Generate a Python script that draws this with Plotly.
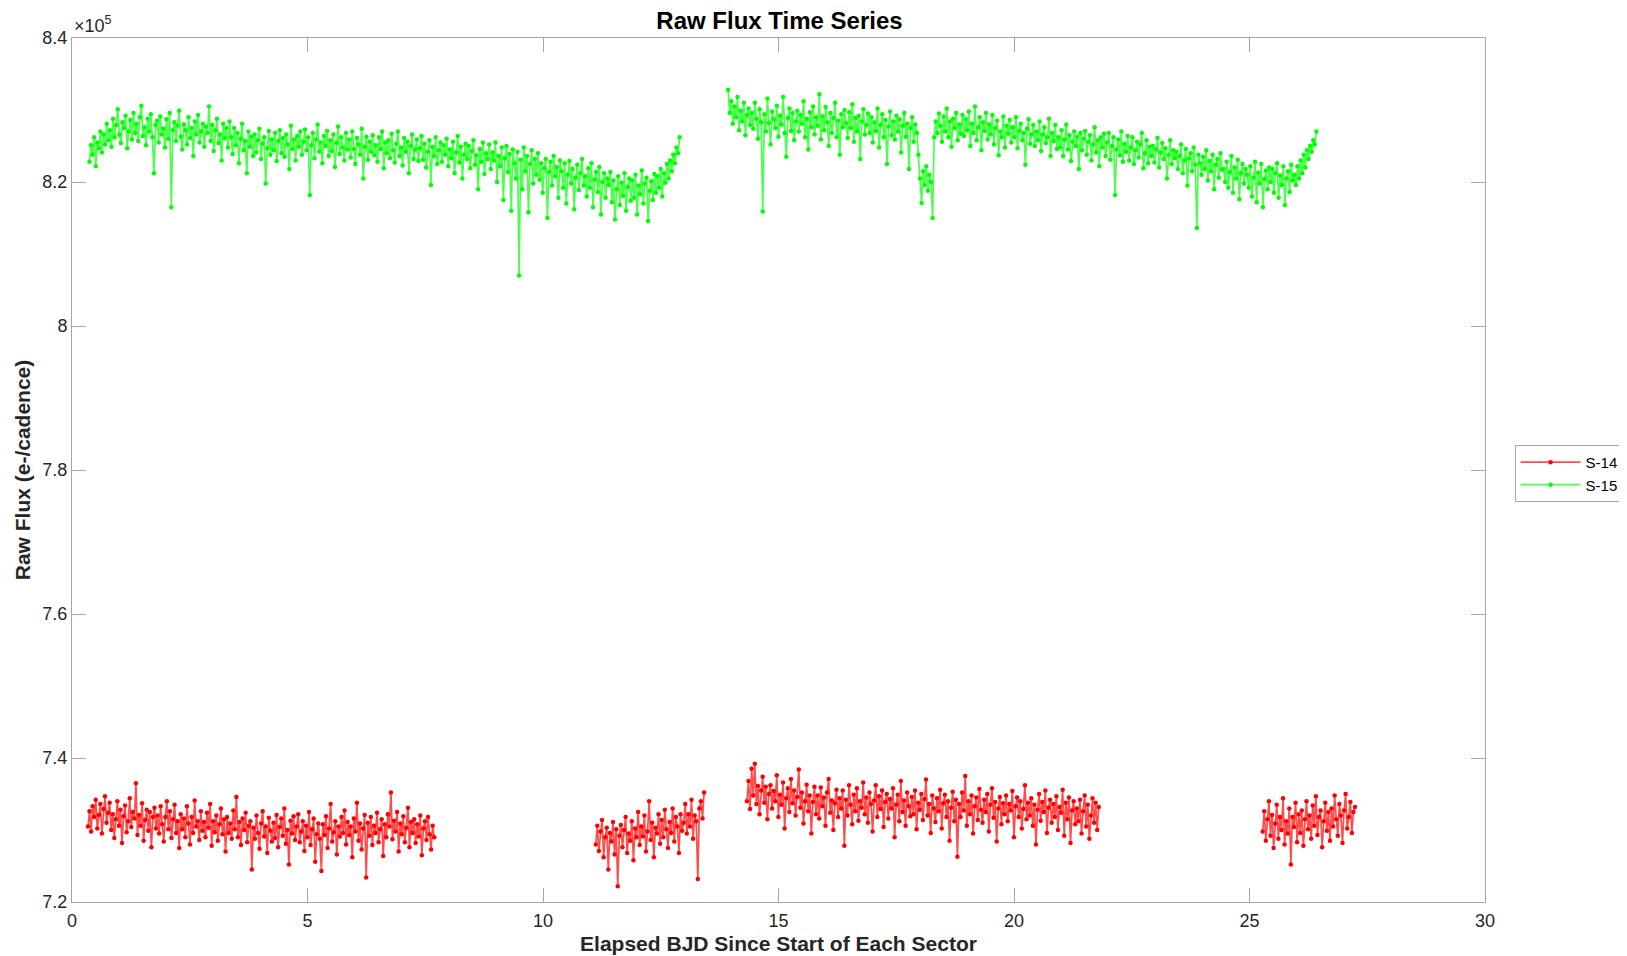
import numpy as np
import plotly.graph_objects as go

# Flux values are in units of 100 e-/cadence (e.g. 8273 -> 8.273e5 e-/cadence).
# Each segment: (start day, end day) + values; samples are evenly spaced in time (fixed cadence).

S15_SEG1_T = (0.37, 12.90)
S15_SEG1 = [
    8228, 8251, 8238, 8262, 8222, 8255, 8247, 8270, 8241, 8266, 8252, 8281, 8258, 8272, 8249,
    8288, 8262, 8279, 8301, 8266, 8254, 8283, 8275, 8292, 8247, 8270, 8286, 8259, 8296, 8268,
    8281, 8257, 8290, 8306, 8264, 8276, 8251, 8288, 8270, 8294, 8262, 8212, 8279, 8285, 8255,
    8291, 8266, 8274, 8248, 8287, 8260, 8296, 8165, 8272, 8283, 8257, 8278, 8299, 8263, 8245,
    8280, 8272, 8252, 8290, 8261, 8275, 8236, 8284, 8266, 8293, 8255, 8270, 8281, 8249, 8277,
    8268, 8305, 8257, 8279, 8243, 8272, 8288, 8254, 8266, 8230, 8281, 8261, 8275, 8248, 8284,
    8262, 8239, 8275, 8251, 8268, 8226, 8260, 8281, 8244, 8257, 8212, 8270, 8249, 8263, 8236,
    8266, 8241, 8258, 8274, 8232, 8253, 8262, 8198, 8247, 8271, 8238, 8259, 8244, 8268, 8229,
    8257, 8272, 8240, 8261, 8235, 8266, 8252, 8218, 8278, 8246, 8259, 8230, 8264, 8249, 8270,
    8238, 8256, 8273, 8244, 8262, 8182, 8251, 8268, 8233, 8259, 8280, 8242, 8255, 8226, 8264,
    8250, 8271, 8236, 8258, 8243, 8266, 8221, 8254, 8277, 8239, 8262, 8248, 8230, 8268, 8245,
    8259, 8234, 8270, 8246, 8225, 8261, 8252, 8238, 8274, 8205, 8249, 8263, 8231, 8256, 8242,
    8265, 8237, 8251, 8228, 8262, 8246, 8270, 8219, 8255, 8240, 8258, 8233, 8267, 8244, 8227,
    8253, 8270, 8236, 8248, 8223, 8261, 8242, 8256, 8212, 8250, 8266, 8232, 8245, 8259, 8229,
    8247, 8264, 8231, 8253, 8220, 8242, 8258, 8196, 8249, 8236, 8262, 8225, 8244, 8255, 8228,
    8251, 8238, 8260, 8222, 8245, 8233, 8256, 8212, 8241, 8264, 8227, 8249, 8205, 8238, 8253,
    8232, 8250, 8219, 8243, 8258, 8224, 8237, 8190, 8246, 8228, 8255, 8211, 8240, 8232, 8252,
    8218, 8241, 8230, 8255, 8200, 8236, 8222, 8248, 8175, 8233, 8250, 8214, 8239, 8160, 8245,
    8226, 8205, 8242, 8070, 8231, 8190, 8248, 8215, 8236, 8158, 8225, 8244, 8198, 8232, 8210,
    8240, 8203, 8226, 8185, 8219, 8232, 8150, 8214, 8228, 8195, 8236, 8208, 8221, 8178, 8230,
    8215, 8192, 8226, 8170, 8210, 8229, 8198, 8218, 8162, 8206, 8224, 8189, 8212, 8232, 8195,
    8208, 8180, 8219, 8192, 8226, 8165, 8203, 8214, 8186, 8221, 8155, 8200, 8212, 8178, 8205,
    8196, 8214, 8172, 8202, 8148, 8190, 8208, 8168, 8199, 8181, 8212, 8160, 8193, 8205, 8174,
    8202, 8178, 8210, 8155, 8195, 8183, 8216, 8170, 8198, 8206, 8146, 8188, 8201, 8175, 8211,
    8185, 8208, 8192, 8218, 8180, 8212, 8199, 8225, 8205, 8230, 8215, 8238, 8226, 8248, 8240, 8262,
]

S15_SEG2_T = (13.93, 26.42)
S15_SEG2 = [
    8328, 8296, 8312, 8281, 8305, 8290, 8318, 8272, 8299, 8284, 8310, 8265, 8293, 8302, 8279,
    8296, 8274, 8310, 8288, 8260, 8301, 8283, 8159, 8294, 8270, 8316, 8282, 8252, 8298, 8287,
    8275, 8306, 8263, 8292, 8280, 8318, 8268, 8235, 8289, 8302, 8271, 8296, 8258, 8284, 8299,
    8270, 8293, 8281, 8312, 8262, 8288, 8245, 8297, 8276, 8305, 8266, 8290, 8278, 8322, 8259,
    8291, 8272, 8304, 8283, 8250, 8296, 8268, 8289, 8310, 8262, 8285, 8238, 8294, 8276, 8300,
    8282, 8261, 8297, 8275, 8308, 8256, 8289, 8270, 8292, 8232, 8284, 8301, 8266, 8279, 8295,
    8268, 8290, 8255, 8283, 8271, 8302, 8248, 8279, 8294, 8262, 8286, 8225, 8277, 8298, 8265,
    8284, 8259, 8292, 8270, 8287, 8241, 8278, 8296, 8263, 8281, 8218, 8275, 8290, 8256, 8280,
    8268, 8238, 8205, 8171, 8215, 8196, 8222, 8188, 8210, 8200, 8150, 8262, 8284, 8268, 8295,
    8278, 8256, 8291, 8270, 8302, 8262, 8284, 8249, 8288, 8275, 8296, 8258, 8280, 8267, 8293,
    8264, 8287, 8272, 8298, 8250, 8281, 8268, 8305, 8258, 8276, 8290, 8244, 8283, 8271, 8296,
    8259, 8280, 8266, 8293, 8252, 8275, 8285, 8237, 8270, 8262, 8291, 8248, 8278, 8267, 8286,
    8255, 8276, 8262, 8290, 8247, 8271, 8281, 8258, 8268, 8224, 8274, 8287, 8253, 8266, 8279,
    8250, 8270, 8258, 8284, 8243, 8266, 8276, 8254, 8262, 8288, 8236, 8268, 8257, 8279, 8246,
    8262, 8248, 8272, 8236, 8259, 8280, 8245, 8265, 8229, 8256, 8270, 8250, 8263, 8218, 8268,
    8244, 8260, 8271, 8238, 8256, 8265, 8230, 8252, 8276, 8241, 8258, 8222, 8262, 8248, 8267,
    8236, 8255, 8268, 8231, 8250, 8262, 8182, 8245, 8259, 8237, 8270, 8228, 8253, 8242, 8264,
    8230, 8248, 8262, 8225, 8244, 8256, 8234, 8252, 8268, 8219, 8240, 8258, 8226, 8249, 8236,
    8250, 8227, 8245, 8261, 8220, 8241, 8254, 8232, 8247, 8205, 8238, 8258, 8225, 8244, 8233,
    8242, 8218, 8236, 8252, 8212, 8230, 8246, 8195, 8233, 8240, 8215, 8248, 8224, 8136, 8238,
    8226, 8210, 8235, 8218, 8244, 8202, 8229, 8215, 8238, 8190, 8224, 8232, 8206, 8240, 8217,
    8218, 8200, 8228, 8192, 8214, 8236, 8185, 8220, 8205, 8231, 8176, 8212, 8225, 8198, 8218,
    8210, 8192, 8222, 8180, 8206, 8228, 8172, 8213, 8198, 8225, 8165, 8204, 8216, 8190, 8220,
    8200, 8218, 8185, 8212, 8226, 8178, 8209, 8196, 8222, 8168, 8205, 8215, 8186, 8224, 8202,
    8210, 8196, 8222, 8205, 8230, 8212, 8238, 8220, 8244, 8232, 8250, 8242, 8258, 8252, 8270,
]

S14_SEGA_T = (0.34, 7.69)
S14_SEGA = [
    7305, 7326, 7298, 7333, 7318, 7342, 7302, 7321, 7336, 7295, 7329, 7347, 7310, 7324, 7338,
    7300, 7322, 7289, 7315, 7340, 7306, 7328, 7282, 7319, 7334, 7297, 7312, 7344, 7304, 7325,
    7316, 7365, 7293, 7321, 7306, 7337, 7285, 7314, 7328, 7299, 7325, 7276, 7318, 7331, 7302,
    7320, 7295, 7333, 7308, 7284, 7318, 7340, 7301, 7326, 7289, 7315, 7335, 7296, 7312, 7275,
    7322, 7301, 7316, 7290, 7333, 7309, 7280, 7318, 7296, 7341, 7305, 7312, 7286, 7326, 7299,
    7311, 7290, 7324, 7303, 7336, 7278, 7312, 7297, 7320, 7285, 7308, 7330, 7294, 7315, 7270,
    7318, 7296, 7309, 7288, 7327, 7301, 7346, 7290, 7311, 7279, 7316, 7300, 7324, 7283, 7306,
    7312, 7245, 7303, 7288, 7320, 7296, 7274, 7309, 7326, 7291, 7305, 7268, 7317, 7299, 7284,
    7310, 7289, 7321, 7276, 7304, 7316, 7292, 7330, 7281, 7300, 7252, 7313, 7295, 7319, 7286,
    7305, 7322, 7283, 7298, 7312, 7271, 7306, 7290, 7325, 7279, 7301, 7316, 7256, 7294, 7309,
    7288, 7243, 7308, 7293, 7319, 7275, 7302, 7336, 7284, 7297, 7312, 7266, 7305, 7291, 7318,
    7296, 7327, 7280, 7311, 7293, 7305, 7262, 7316, 7298, 7338, 7285, 7309, 7273, 7302, 7321,
    7234, 7310, 7292, 7318, 7279, 7306, 7296, 7324, 7283, 7301, 7315, 7264, 7308, 7290, 7322,
    7305, 7352, 7287, 7313, 7298, 7325, 7270, 7309, 7294, 7319, 7283, 7303, 7331, 7276, 7311,
    7296, 7315, 7282, 7308, 7291, 7320, 7265, 7302, 7312, 7286, 7318, 7294, 7273, 7306, 7290,
]

S14_SEGB_T = (11.12, 13.42)
S14_SEGB = [
    7280, 7306, 7271, 7298, 7314, 7262, 7290, 7303, 7245, 7296, 7284, 7311, 7266, 7301,
    7222, 7292, 7307, 7276, 7300, 7318, 7268, 7295, 7285, 7312, 7258, 7302, 7290, 7325,
    7279, 7305, 7291, 7320, 7270, 7298, 7340, 7286, 7310, 7262, 7303, 7295, 7322, 7281,
    7314, 7290, 7328, 7301, 7275, 7311, 7296, 7330, 7284, 7318, 7305, 7268, 7322, 7299,
    7310, 7336, 7295, 7322, 7305, 7342, 7288, 7320, 7312, 7232, 7330, 7340, 7316, 7352,
]

S14_SEGC_T = (14.33, 21.80)
S14_SEGC = [
    7340, 7368, 7329, 7385, 7348, 7392, 7336, 7361, 7322, 7355, 7374, 7338, 7360, 7315, 7350,
    7362, 7330, 7354, 7340, 7376, 7318, 7349, 7335, 7366, 7302, 7344, 7358, 7325, 7371, 7337,
    7355, 7320, 7346, 7384, 7331, 7352, 7309, 7340, 7363, 7326, 7348, 7295, 7339, 7360, 7322,
    7348, 7316, 7359, 7333, 7345, 7306, 7352, 7371, 7324, 7341, 7300, 7337, 7356, 7318, 7344,
    7330, 7355, 7278, 7342, 7320, 7362, 7335, 7308, 7349, 7326, 7358, 7313, 7340, 7331, 7366,
    7322, 7345, 7310, 7352, 7336, 7298, 7341, 7362, 7318, 7347, 7329, 7355, 7304, 7339, 7350,
    7316, 7343, 7330, 7358, 7290, 7335, 7349, 7312, 7368, 7325, 7341, 7306, 7352, 7333, 7319,
    7346, 7322, 7355, 7301, 7338, 7328, 7350, 7314, 7343, 7370, 7320, 7336, 7296, 7348, 7330,
    7311, 7344, 7326, 7356, 7302, 7337, 7349, 7318, 7340, 7285, 7331, 7353, 7312, 7342, 7263,
    7336, 7318, 7352, 7327, 7375, 7306, 7340, 7322, 7348, 7295, 7333, 7345, 7314, 7357, 7328,
    7310, 7342, 7325, 7350, 7298, 7335, 7358, 7317, 7339, 7284, 7330, 7346, 7308, 7337, 7322,
    7348, 7312, 7336, 7327, 7354, 7290, 7333, 7345, 7318, 7340, 7302, 7329, 7362, 7315, 7338,
    7320, 7344, 7306, 7335, 7280, 7328, 7350, 7313, 7339, 7325, 7355, 7296, 7331, 7342, 7310,
    7336, 7318, 7347, 7300, 7332, 7324, 7356, 7292, 7338, 7315, 7345, 7282, 7327, 7340, 7308,
    7330, 7312, 7342, 7295, 7326, 7348, 7305, 7335, 7288, 7320, 7344, 7310, 7338, 7300, 7332,
]

S14_SEGD_T = (25.28, 27.24)
S14_SEGD = [
    7298, 7326, 7285, 7315, 7340, 7292, 7321, 7275, 7309, 7335, 7288, 7318, 7300, 7344, 7280,
    7312, 7295, 7330, 7252, 7318, 7304, 7338, 7283, 7322, 7296, 7327, 7278, 7315, 7340, 7301,
    7320, 7288, 7334, 7306, 7347, 7293, 7318, 7327, 7276, 7312, 7338, 7299, 7325, 7285, 7330,
    7305, 7348, 7315, 7292, 7336, 7320, 7282, 7327, 7350, 7302, 7318, 7339, 7296, 7325, 7332,
]

SERIES = [
    ("S-14", "#ff0000", "rgba(255,0,0,0.7)",
     [(S14_SEGA_T, S14_SEGA), (S14_SEGB_T, S14_SEGB), (S14_SEGC_T, S14_SEGC), (S14_SEGD_T, S14_SEGD)]),
    ("S-15", "#00ff00", "rgba(0,255,0,0.7)",
     [(S15_SEG1_T, S15_SEG1), (S15_SEG2_T, S15_SEG2)]),
]

Y_TICKS = [7.2, 7.4, 7.6, 7.8, 8.0, 8.2, 8.4]          # in units of 1e5
Y_TICK_TEXT = ["7.2", "7.4", "7.6", "7.8", "8", "8.2", "8.4"]
X_TICKS = [0, 5, 10, 15, 20, 25, 30]


def build(segments):
    xs, ys = [], []
    for (t0, t1), vals in segments:
        t = np.linspace(t0, t1, len(vals))
        xs.extend(t.tolist())
        ys.extend([v * 100 for v in vals])
        xs.append(None)
        ys.append(None)
    return xs, ys


fig = go.Figure()
for name, color, line_color, segs in SERIES:
    x, y = build(segs)
    fig.add_trace(go.Scatter(
        x=x, y=y, name=name, mode="lines+markers",
        line=dict(color=line_color, width=1.7),
        marker=dict(color=color, size=4.5),
        connectgaps=False,
    ))

FONT = "Liberation Sans, Arial, Helvetica, sans-serif"
axis_color = "#a6a6a6"
tick_font = dict(family=FONT, size=18, color="#262626")

W, H = 1627, 956
# the page body adds an 8px offset; margins are set so the axes land where the reference has them
fig.update_layout(
    width=W, height=H,
    margin=dict(l=64, r=149, t=30, b=62),
    paper_bgcolor="white", plot_bgcolor="white",
    title=dict(text="<b>Raw Flux Time Series</b>", x=0.4742, xanchor="center",
               y=0.9869, yanchor="middle",
               font=dict(family=FONT, size=24, color="#000000")),
    xaxis=dict(range=[0, 30], tickvals=X_TICKS, ticks="inside", ticklen=14, tickcolor=axis_color,
               showline=True, linecolor=axis_color, linewidth=1, mirror="ticks",
               showgrid=False, zeroline=False, tickfont=tick_font, automargin=False,
               ticklabelstandoff=2,
               title=dict(text="<b>Elapsed BJD Since Start of Each Sector</b>", standoff=6,
                          font=dict(family=FONT, size=21, color="#262626"))),
    yaxis=dict(range=[720000, 840000], tickvals=[v * 1e5 for v in Y_TICKS], ticktext=Y_TICK_TEXT,
               ticks="inside", ticklen=14, tickcolor=axis_color,
               showline=True, linecolor=axis_color, linewidth=1, mirror="ticks",
               showgrid=False, zeroline=False, tickfont=tick_font, automargin=False,
               title=dict(text="<b>Raw Flux (e-/cadence)</b>", standoff=6,
                          font=dict(family=FONT, size=21, color="#262626"))),
    legend=dict(x=1.0202, y=0.529, xanchor="left", yanchor="top", bgcolor="white",
                bordercolor=axis_color, borderwidth=1, itemwidth=60,
                font=dict(family=FONT, size=15, color="#000000")),
    showlegend=True,
)

fig.add_annotation(text="×10<sup>5</sup>", xref="paper", yref="paper", x=0.0, y=1.0,
                   xanchor="left", yanchor="bottom", showarrow=False, yshift=0,
                   font=dict(family=FONT, size=18, color="#262626"))

fig.write_html("out.html")
